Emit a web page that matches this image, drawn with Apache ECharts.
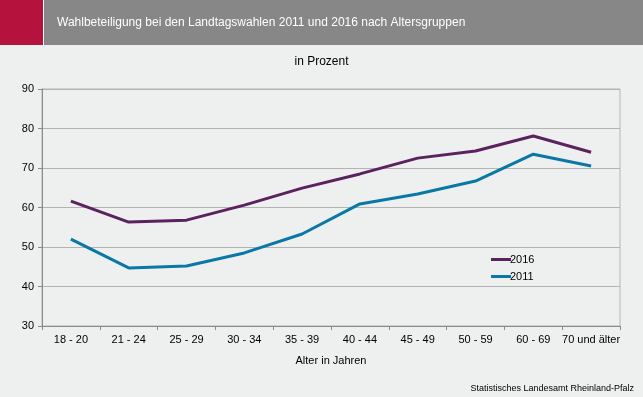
<!DOCTYPE html>
<html>
<head>
<meta charset="utf-8">
<script src="https://cdn.jsdelivr.net/npm/echarts@6/dist/echarts.min.js"></script>
<style>
  html, body { margin: 0; padding: 0; background: #eef0ef; }
  #chart { width: 643px; height: 397px; }
</style>
</head>
<body>
<div id="chart"></div>
<script>
  var categories = ['18 - 20', '21 - 24', '25 - 29', '30 - 34', '35 - 39', '40 - 44', '45 - 49', '50 - 59', '60 - 69', '70 und älter'];
  var values2016 = [61.6, 56.3, 56.8, 60.6, 64.9, 68.5, 72.5, 74.3, 78.1, 74.0];
  var values2011 = [52.0, 44.7, 45.2, 48.5, 53.3, 60.9, 63.4, 66.7, 73.5, 70.5];
  var yTicks = [30, 40, 50, 60, 70, 80, 90];

  var font = '"Liberation Sans", Arial, sans-serif';
  var chart = echarts.init(document.getElementById('chart'));
  chart.setOption({
    backgroundColor: '#eef0ef',
    animation: false,
    textStyle: { fontFamily: font },
    graphic: [
      { type: 'rect', shape: { x: 0, y: 0, width: 643, height: 45 }, style: { fill: '#878787' } },
      { type: 'rect', shape: { x: 0, y: 0, width: 43, height: 45 }, style: { fill: '#b5123e' } },
      { type: 'rect', shape: { x: 43, y: 0, width: 1, height: 45 }, style: { fill: '#ffffff' } },
      { type: 'text', left: 57, top: 17, style: { text: 'Wahlbeteiligung bei den Landtagswahlen 2011 und 2016 nach Altersgruppen', fill: '#ffffff', font: '12px ' + font } },
      { type: 'text', left: 'center', top: 56, style: { text: 'in Prozent', fill: '#000000', font: '12px ' + font } },
      { type: 'text', right: 9, top: 384, style: { text: 'Statistisches Landesamt Rheinland-Pfalz', fill: '#000000', font: '9px ' + font } }
    ],
    legend: {
      orient: 'vertical',
      left: 486,
      top: 249,
      itemWidth: 20,
      itemHeight: 3,
      itemGap: 6,
      icon: 'rect',
      textStyle: { fontSize: 11, color: '#000', padding: [0, 0, 0, -6] },
      data: ['2016', '2011']
    },
    grid: { left: 42, right: 23, top: 89, bottom: 71, show: true, borderColor: '#b3b3b3', borderWidth: 1 },
    xAxis: {
      type: 'category',
      data: categories,
      boundaryGap: true,
      name: 'Alter in Jahren',
      nameLocation: 'middle',
      nameGap: 29,
      nameTextStyle: { fontSize: 11, color: '#000' },
      axisLine: { lineStyle: { color: '#8a8a8a', width: 1 } },
      axisTick: { show: true, length: 4, lineStyle: { color: '#8a8a8a' } },
      axisLabel: { fontSize: 11, color: '#000', margin: 8, interval: 0 }
    },
    yAxis: {
      type: 'value',
      min: yTicks[0],
      max: yTicks[yTicks.length - 1],
      interval: 10,
      axisLine: { show: true, lineStyle: { color: '#8a8a8a', width: 1 } },
      axisTick: { show: true, length: 4, lineStyle: { color: '#8a8a8a' } },
      axisLabel: { fontSize: 11, color: '#000', margin: 8 },
      splitLine: { lineStyle: { color: '#b3b3b3', width: 1 } }
    },
    series: [
      {
        name: '2016',
        type: 'line',
        data: values2016,
        symbol: 'none',
        color: '#5b2260',
        lineStyle: { width: 3, color: '#5b2260' }
      },
      {
        name: '2011',
        type: 'line',
        data: values2011,
        symbol: 'none',
        color: '#0a78a6',
        lineStyle: { width: 3, color: '#0a78a6' }
      }
    ]
  });
</script>
</body>
</html>
